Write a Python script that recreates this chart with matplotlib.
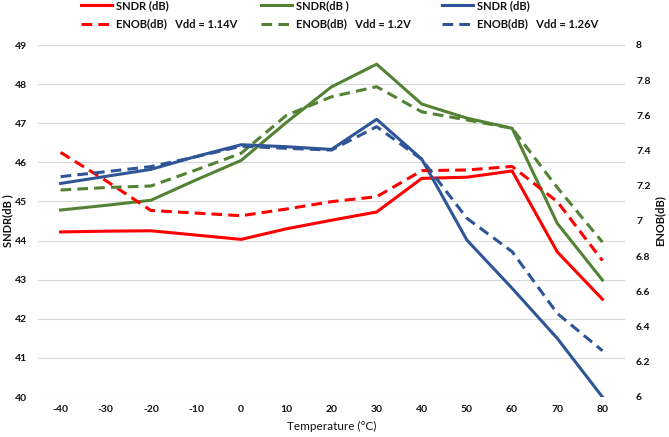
import matplotlib
matplotlib.use("Agg")
import matplotlib.pyplot as plt

plt.rcParams['font.family'] = ['Lato', 'DejaVu Sans']
plt.rcParams['font.weight'] = 'bold'

temps = [-40, -30, -20, -10, 0, 10, 20, 30, 40, 50, 60, 70, 80]
sndr_114 = [44.22, 44.24, 44.25, 44.14, 44.03, 44.30, 44.52, 44.73, 45.59, 45.62, 45.78, 43.71, 42.50]
enob_114 = [7.39, 7.23, 7.06, 7.045, 7.03, 7.068, 7.11, 7.138, 7.286, 7.29, 7.31, 7.11, 6.775]
sndr_12 = [44.78, 44.90, 45.03, 45.55, 46.05, 47.02, 47.93, 48.51, 47.49, 47.13, 46.87, 44.44, 42.99]
enob_12 = [7.176, 7.19, 7.199, 7.29, 7.385, 7.60, 7.706, 7.763, 7.62, 7.574, 7.527, 7.19, 6.88]
sndr_126 = [45.46, 45.64, 45.82, 46.15, 46.45, 46.40, 46.33, 47.10, 46.08, 44.01, 42.78, 41.50, 40.0]
enob_126 = [7.252, 7.28, 7.309, 7.365, 7.425, 7.413, 7.403, 7.536, 7.35, 7.015, 6.826, 6.475, 6.263]

left_ticks = [40, 41, 42, 43, 44, 45, 46, 47, 48, 49]
right_ticks = [6, 6.2, 6.4, 6.6, 6.8, 7, 7.2, 7.4, 7.6, 7.8, 8]
right_labels = ['6', '6.2', '6.4', '6.6', '6.8', '7', '7.2', '7.4', '7.6', '7.8', '8']

RED = '#FF0000'
GREEN = '#548235'
BLUE = '#2F5597'
TXT = '#111111'
FS = 7.5
LW = 2.2
DASH = (3.5, 2.0)

W, H = 669, 437
fig = plt.figure(figsize=(W / 100, H / 100), dpi=100)
ax = fig.add_axes([38 / W, 1 - 397 / H, (625 - 38) / W, (397 - 45) / H])
ax2 = ax.twinx()

ax.set_xlim(-45, 85)
ax.set_ylim(40, 49)
ax2.set_ylim(6, 8)

for a in (ax, ax2):
    for s in a.spines.values():
        s.set_visible(False)

ax.set_yticks(left_ticks)
ax.grid(axis='y', color='#D9D9D9', lw=0.8)
ax.set_axisbelow(True)
ax.set_xticks(temps)
ax.set_xticklabels([str(t) for t in temps])
ax.tick_params(axis='both', length=0, labelsize=FS, labelcolor=TXT)
ax.tick_params(axis='y', pad=8)
ax.tick_params(axis='x', pad=6)
ax2.set_yticks(right_ticks)
ax2.set_yticklabels(right_labels)
ax2.tick_params(axis='y', length=0, labelsize=FS, labelcolor=TXT, pad=8)

l1, = ax.plot(temps, sndr_114, color=RED, lw=LW)
l3, = ax.plot(temps, sndr_12, color=GREEN, lw=LW)
l5, = ax.plot(temps, sndr_126, color=BLUE, lw=LW)
l2, = ax2.plot(temps, enob_114, color=RED, lw=LW, dashes=DASH)
l4, = ax2.plot(temps, enob_12, color=GREEN, lw=LW, dashes=DASH)
l6, = ax2.plot(temps, enob_126, color=BLUE, lw=LW, dashes=DASH)

ax.set_xlabel('Temperature (°C)', fontsize=8.5, color=TXT, labelpad=5)
fig.text(8 / W, 1 - 221 / H, 'SNDR(dB )', rotation=90, ha='center', va='center',
         fontsize=8, color=TXT)
fig.text(660 / W, 1 - 221 / H, 'ENOB(dB)', rotation=90, ha='center', va='center',
         fontsize=8, color=TXT)

groups = [
    ([l1, l2], ['SNDR (dB)', 'ENOB(dB)   Vdd = 1.14V'], 79),
    ([l3, l4], ['SNDR(dB )', 'ENOB(dB)   Vdd = 1.2V'], 259),
    ([l5, l6], ['SNDR (dB)', 'ENOB(dB)   Vdd = 1.26V'], 440),
]
for hs, labs, xp in groups:
    leg = fig.legend(hs, labs, loc='upper left', bbox_to_anchor=(xp / W, 1 + 2 / H),
                     frameon=False, fontsize=8, handlelength=2.8, handletextpad=0.35,
                     labelspacing=0.65, borderaxespad=0, borderpad=0.2)
    for t in leg.get_texts():
        t.set_color(TXT)

fig.savefig('out.png', dpi=100)
